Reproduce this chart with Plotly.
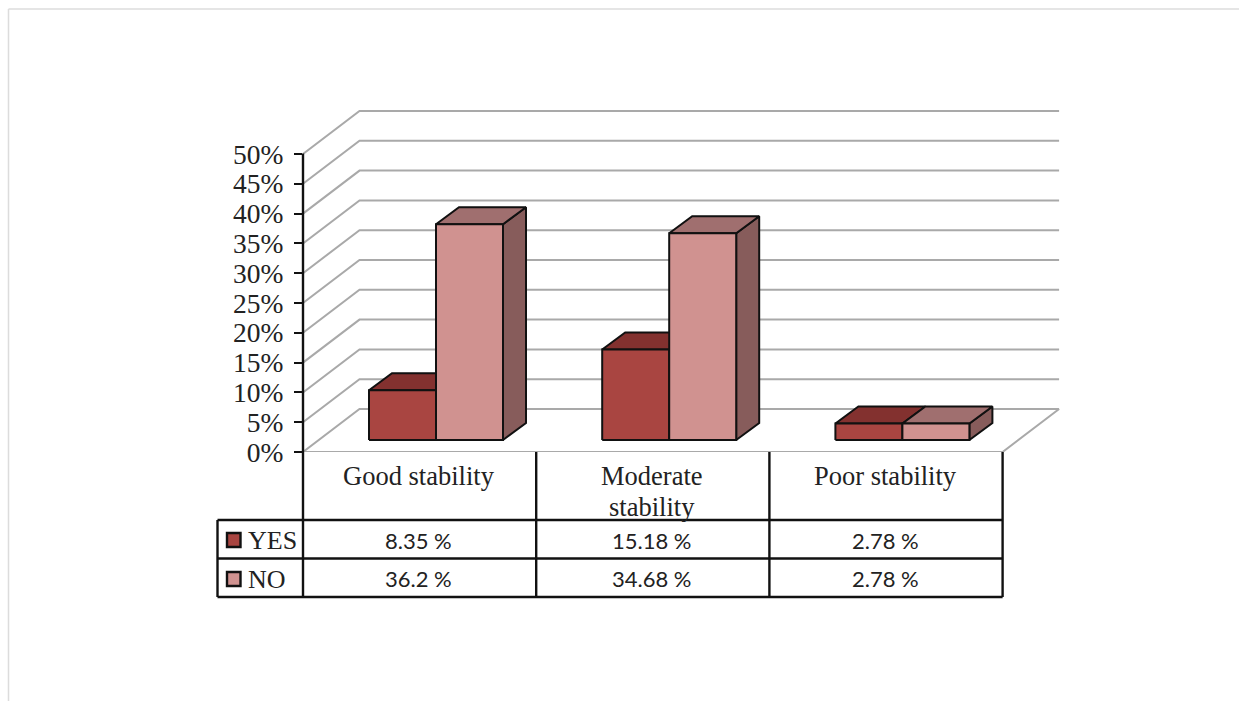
import plotly.graph_objects as go

categories = ["Good stability", "Moderate<br>stability", "Poor stability"]
yes_values = [8.35, 15.18, 2.78]
no_values = [36.2, 34.68, 2.78]
tick_values = [0, 5, 10, 15, 20, 25, 30, 35, 40, 45, 50]

W, H = 1239, 701
PAGE = 0                  # body margin is removed below, so the graph fills the window
LEFT, RIGHT, TOP, BOTTOM = 303, 1060, 110, 452
CAT_PX = 233.2
PCT_PX = 5.96
DEPTH_X, DEPTH_Y = 56.5 / CAT_PX, 43 / PCT_PX
BAR_DX, BAR_DY = 23 / CAT_PX, 17 / PCT_PX
BAR_START, BAR_W, BAR_BASE = 66 / CAT_PX, 67 / CAT_PX, 12 / PCT_PX

RED = dict(front="#a94541", top="#83312f", side="#83312f")
PINK = dict(front="#d09290", top="#a06f6f", side="#875c5b")
GRID = "#a9a9a9"
INK = "#111111"
SERIF = "Liberation Serif"


def px(x):
    return (x - LEFT) / (RIGHT - LEFT)


def py(y):
    return (BOTTOM - y) / (BOTTOM - TOP)


fig = go.Figure()

# Walls and floor
for v in tick_values:
    fig.add_trace(go.Scatter(
        x=[0, DEPTH_X, 3 + DEPTH_X], y=[v, v + DEPTH_Y, v + DEPTH_Y],
        mode="lines", line=dict(color=GRID, width=2), hoverinfo="skip",
        showlegend=False, cliponaxis=False))
fig.add_trace(go.Scatter(
    x=[0, 3, 3 + DEPTH_X], y=[0, 0, DEPTH_Y],
    mode="lines", line=dict(color=GRID, width=2), hoverinfo="skip",
    showlegend=False, cliponaxis=False))


def face(xs, ys, color, name, value):
    fig.add_trace(go.Scatter(
        x=xs, y=ys, mode="lines", fill="toself", fillcolor=color,
        line=dict(color=INK, width=2), showlegend=False, name=name,
        hovertemplate=f"{name}: {value}%<extra></extra>"))


def bar3d(cat, slot, value, col, name):
    x0 = cat + BAR_START + slot * BAR_W
    x1 = x0 + BAR_W
    b = BAR_BASE
    t = BAR_BASE + value
    face([x1, x1 + BAR_DX, x1 + BAR_DX, x1, x1], [b, b + BAR_DY, t + BAR_DY, t, b], col["side"], name, value)
    face([x0, x0 + BAR_DX, x1 + BAR_DX, x1, x0], [t, t + BAR_DY, t + BAR_DY, t, t], col["top"], name, value)
    face([x0, x1, x1, x0, x0], [b, b, t, t, b], col["front"], name, value)


for i in range(len(categories)):
    bar3d(i, 0, yes_values[i], RED, "YES")
    bar3d(i, 1, no_values[i], PINK, "NO")

shapes = []


def line(x0, y0, x1, y1, color=INK, width=2.4):
    shapes.append(dict(type="line", xref="paper", yref="paper",
                       x0=px(x0), y0=py(y0), x1=px(x1), y1=py(y1),
                       line=dict(color=color, width=width)))


# Outer picture edge
line(8.5, 9, 1239, 9, "#dcdcdc", 1.5)
line(8.5, 9, 8.5, 701, "#dcdcdc", 1.5)

# Axis line and data table grid
ROW_Y = [520, 558.5, 597]
LEGEND_X = 217.5
COL_X = [LEFT + CAT_PX * i for i in range(4)]
line(LEFT, 153.5, LEFT, 597)
for x in COL_X[1:]:
    line(x, BOTTOM, x, 597)
line(LEGEND_X, 520, LEGEND_X, 597)
for y in ROW_Y:
    line(LEGEND_X, y, COL_X[-1], y)

annotations = []


def label(x, y, text, font, size, color="#222222", xanchor="center", yanchor="middle"):
    annotations.append(dict(x=px(x), y=py(y), xref="paper", yref="paper", text=text,
                            showarrow=False, xanchor=xanchor, yanchor=yanchor,
                            align="center", font=dict(family=font, size=size, color=color)))


for i, cat in enumerate(categories):
    cx = LEFT + CAT_PX * (i + 0.5)
    for k, part in enumerate(cat.split("<br>")):
        label(cx - 0.5, 476 + 31 * k, part, SERIF, 26.5)
    label(cx - 1, 540, f"{yes_values[i]} %", "Lato", 22)
    label(cx - 1, 578.5, f"{no_values[i]} %", "Lato", 22)

for name, col, y0 in [("YES", RED, 540), ("NO", PINK, 579)]:
    shapes.append(dict(type="rect", xref="paper", yref="paper",
                       x0=px(227), x1=px(240.5), y0=py(y0 - 7), y1=py(y0 + 7),
                       fillcolor=col["front"], line=dict(color=INK, width=2.4)))
    label(246, y0, name, SERIF, 26, xanchor="left")

fig.update_layout(
    width=W, height=H, autosize=False,
    margin=dict(l=LEFT - PAGE, r=W + PAGE - RIGHT, t=TOP - PAGE, b=H + PAGE - BOTTOM, pad=0),
    paper_bgcolor="white", plot_bgcolor="white", showlegend=False,
    shapes=shapes, annotations=annotations,
    xaxis=dict(range=[0, (RIGHT - LEFT) / CAT_PX], visible=False, fixedrange=True),
    yaxis=dict(range=[0, (BOTTOM - TOP) / PCT_PX], tickvals=tick_values,
               ticktext=[f"{v}%" for v in tick_values], ticks="outside", ticklen=8,
               tickwidth=2.4, tickcolor=INK, showgrid=False, zeroline=False, showline=False,
               ticklabelstandoff=5, fixedrange=True,
               tickfont=dict(family=SERIF, size=27.5, color="#222222")),
)

fig.write_html("out.html", default_width=f"{W}px", default_height=f"{H}px",
               config={"displayModeBar": False},
               post_script="document.body.style.margin='0';document.documentElement.style.overflow='hidden';")
